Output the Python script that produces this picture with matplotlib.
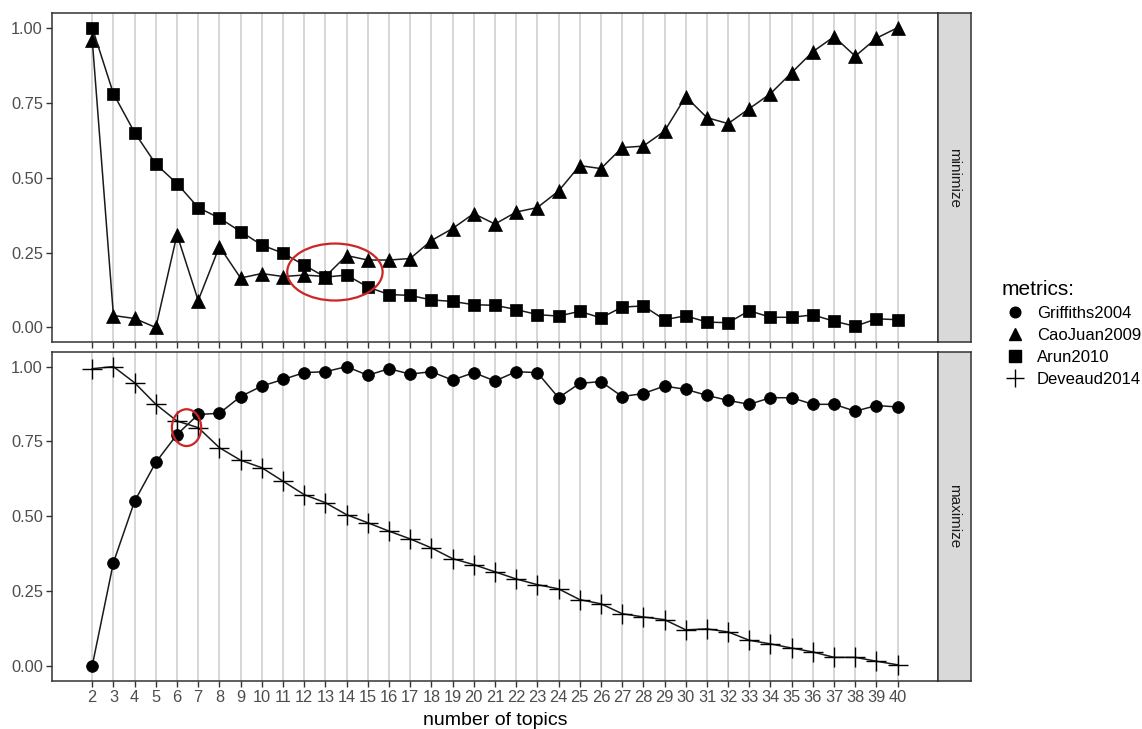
import matplotlib.pyplot as plt
from matplotlib.lines import Line2D
from matplotlib.patches import Ellipse

topics = list(range(2, 41))

# minimize panel
caojuan2009 = [0.96, 0.04, 0.03, 0.00, 0.31, 0.09, 0.27, 0.165, 0.18, 0.17, 0.175,
               0.17, 0.24, 0.225, 0.225, 0.23, 0.29, 0.33, 0.38, 0.345, 0.385, 0.40,
               0.455, 0.54, 0.53, 0.60, 0.605, 0.655, 0.77, 0.70, 0.68, 0.73, 0.78,
               0.85, 0.92, 0.97, 0.905, 0.965, 1.00]
arun2010 = [1.00, 0.78, 0.65, 0.545, 0.48, 0.40, 0.365, 0.32, 0.275, 0.248, 0.208,
            0.168, 0.175, 0.135, 0.11, 0.107, 0.092, 0.087, 0.076, 0.074, 0.06, 0.043,
            0.038, 0.054, 0.032, 0.068, 0.072, 0.026, 0.039, 0.018, 0.016, 0.056, 0.034,
            0.034, 0.042, 0.021, 0.004, 0.029, 0.026]

# maximize panel
griffiths2004 = [0.00, 0.345, 0.55, 0.68, 0.773, 0.84, 0.844, 0.90, 0.935, 0.957, 0.98,
                 0.983, 1.00, 0.971, 0.993, 0.975, 0.983, 0.955, 0.98, 0.952, 0.983, 0.98,
                 0.896, 0.944, 0.95, 0.90, 0.91, 0.935, 0.924, 0.904, 0.887, 0.874, 0.896,
                 0.896, 0.874, 0.874, 0.851, 0.87, 0.865]
deveaud2014 = [0.993, 1.00, 0.946, 0.874, 0.818, 0.796, 0.729, 0.687, 0.662, 0.617, 0.572,
               0.545, 0.505, 0.478, 0.45, 0.424, 0.394, 0.358, 0.338, 0.314, 0.29, 0.271,
               0.257, 0.221, 0.207, 0.174, 0.163, 0.154, 0.12, 0.123, 0.113, 0.085, 0.073,
               0.059, 0.046, 0.028, 0.028, 0.015, 0.003]

labels = ["Griffiths2004", "CaoJuan2009", "Arun2010", "Deveaud2014"]
markers = {"Griffiths2004": ("o", 8.5), "CaoJuan2009": ("^", 10), "Arun2010": ("s", 9),
           "Deveaud2014": ("+", 14)}
panels = [("minimize", {"CaoJuan2009": caojuan2009, "Arun2010": arun2010}),
          ("maximize", {"Griffiths2004": griffiths2004, "Deveaud2014": deveaud2014})]

# red highlight ellipses (x, y, w, h) in data units
highlights = [(13.45, 0.185, 4.5, 0.19), (6.45, 0.796, 1.38, 0.123)]

plt.rcParams["font.family"] = ["Liberation Sans", "DejaVu Sans"]

fig = plt.figure(figsize=(11.42, 7.29), dpi=100)
axes = [fig.add_axes([0.0455, 0.5302, 0.7758, 0.4524]),
        fig.add_axes([0.0455, 0.0663, 0.7758, 0.4513])]

for ax, (name, series), hl in zip(axes, panels, highlights):
    for key, vals in series.items():
        m, ms = markers[key]
        ax.plot(topics, vals, color="#1a1a1a", lw=1.1, marker=m, ms=ms,
                mec="black", mfc="black", mew=1.0 if m == "+" else 0.5, zorder=3)
    ax.add_patch(Ellipse((hl[0], hl[1]), hl[2], hl[3], fill=False, ec="#cc2525", lw=1.6, zorder=4))
    ax.set_xlim(0.1, 41.9)
    ax.set_ylim(-0.05, 1.05)
    ax.set_xticks(topics)
    ax.set_yticks([0, 0.25, 0.5, 0.75, 1.0])
    ax.set_yticklabels(["0.00", "0.25", "0.50", "0.75", "1.00"])
    ax.grid(axis="x", color="#cfcfcf", lw=1.2)
    ax.set_axisbelow(True)
    for s in ax.spines.values():
        s.set_color("#333333")
        s.set_linewidth(1.1)
    ax.tick_params(colors="#333333", labelcolor="#4d4d4d", labelsize=11.8, length=4,
                   width=1, pad=2.5)
    # facet strip on the right
    pos = ax.get_position()
    sax = fig.add_axes([pos.x1, pos.y0, 0.0289, pos.height])
    sax.set_xticks([])
    sax.set_yticks([])
    sax.set_facecolor("#d9d9d9")
    for s in sax.spines.values():
        s.set_color("#333333")
        s.set_linewidth(1.1)
    sax.text(0.5, 0.5, name, rotation=-90, ha="center", va="center", fontsize=11,
             color="#1a1a1a", transform=sax.transAxes)

axes[0].tick_params(labelbottom=False)
axes[1].set_xlabel("number of topics", fontsize=14, color="black", labelpad=5)

handles = [Line2D([], [], ls="none", marker=markers[k][0], ms=markers[k][1] * 0.9,
                  color="black", mew=1.0) for k in labels]
fig.legend(handles, labels, title="metrics:", loc="upper left",
           bbox_to_anchor=(0.864, 0.637), frameon=False, fontsize=12,
           title_fontsize=15, alignment="left", handletextpad=0.5, labelspacing=0.42,
           handlelength=1.6)

fig.savefig("out.png", dpi=100)
